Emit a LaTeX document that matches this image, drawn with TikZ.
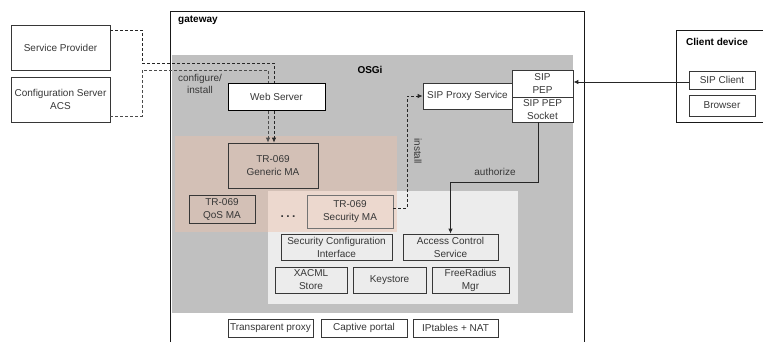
\documentclass[tikz,border=0pt]{standalone}
\usepackage{fontspec}
\setmainfont{Liberation Sans}
\usetikzlibrary{arrows.meta}
\definecolor{osgigray}{RGB}{192,192,192}
\definecolor{zonelight}{RGB}{236,236,236}
\definecolor{zonepink}{RGB}{236,192,170}
\definecolor{edge}{RGB}{55,55,55}
\definecolor{ink}{RGB}{55,55,55}

\begin{document}
\begin{tikzpicture}[x=1bp,y=-1bp,
  font=\fontsize{10bp}{13bp}\selectfont,
  bsize/.style 2 args={minimum width=#1bp, minimum height=#2bp},
  box/.style={draw=edge, line width=0.8bp, align=center, inner sep=0pt, text=ink},
  wbox/.style={box, fill=white},
  tbox/.style={box},
  label/.style={text=ink, inner sep=0pt, align=center},
  title/.style={text=black, inner sep=0pt, font=\fontsize{10bp}{12bp}\selectfont\bfseries},
  dashlink/.style={dash pattern=on 3bp off 2bp, line width=0.8bp, draw=black!85},
  solidlink/.style={line width=0.9bp, draw=black!85},
  tip/.style={-{Latex[length=5bp,width=4.5bp]}},
  frame/.style={line width=0.9bp, draw=black!90}]

\useasboundingbox (0,0) rectangle (763,342);
\fill[white] (0,0) rectangle (763,342);

% gateway frame (open at the bottom)
\draw[frame] (170,342) -- (170,11) -- (584,11) -- (584,342);
\node[title, anchor=west] (gw) at (178,20) {gateway};

% OSGi container and its zones
\fill[osgigray] (172,55) rectangle (573,313);
\node[title] (osgi) at (370,70) {OSGi};
\fill[zonelight] (268,191) rectangle (518,304);
\fill[zonepink, opacity=0.45] (175,136) rectangle (397,232);

% external servers
\node[wbox, bsize={99}{45}] (sp) at (60.5,47.5) {Service Provider};
\node[wbox, bsize={99}{45}] (acs) at (60.5,99.5) {Configuration Server\\ACS};

% management agents
\node[tbox, bsize={90}{45}] (generic) at (273,165.5) {TR-069\\Generic MA};
\node[tbox, bsize={66}{28}] (qos) at (222,209) {TR-069\\QoS MA};
\node[tbox, draw=black!55, bsize={86}{33}] (secma) at (350,211.5) {TR-069\\Security MA};
\node[label, font=\fontsize{12bp}{12bp}\selectfont\bfseries] (dots) at (288,217) {.\hspace{2.5bp}.\hspace{2.5bp}.};

% configure/install paths (behind the web server)
\coordinate (spbend) at (142,63);
\coordinate (acsbend) at (142,70);
\draw[dashlink, tip] (sp.east |- 0,30) -- (spbend |- 0,30) -- (spbend) -- (274,63) -- (generic.north -| 274,0);
\draw[dashlink, draw=black!70, tip] (acs.east |- 0,116) -- (acsbend |- 0,116) -- (acsbend) -- (268,70) -- (generic.north -| 268,0);
\node[label, align=center, font=\fontsize{10bp}{12bp}\selectfont] (cfg) at (200,84) {configure/\\install};

\node[wbox, draw=black, bsize={97}{27}] (web) at (276.5,96.5) {Web Server};

% security services
\node[tbox, bsize={111}{26}] (secconf) at (336.5,247) {Security Configuration\\Interface};
\node[tbox, bsize={95}{26}] (acl) at (450.5,247) {Access Control\\Service};
\node[tbox, bsize={72}{26}] (xacml) at (311,280) {XACML\\Store};
\node[tbox, bsize={73}{26}] (keys) at (389.5,280) {Keystore};
\node[tbox, bsize={77}{26}] (radius) at (470.5,280) {FreeRadius\\Mgr};

% SIP components
\node[wbox, bsize={89}{26}] (proxy) at (467.5,96) {SIP Proxy Service};
\node[wbox, bsize={61}{27}] (pep) at (542.5,83.5) {SIP\\PEP};
\node[wbox, bsize={61}{25}] (sock) at (542.5,109.5) {SIP PEP\\Socket};

% install path to the proxy
\coordinate (instbend) at (407,208);
\draw[dashlink, tip] (secma.east |- instbend) -- (instbend) -- (instbend |- proxy.west) -- (proxy.west);
\node[label, rotate=-90] (inst) at (418,151) {install};

% authorization path
\coordinate (authbend) at (538,182);
\draw[solidlink, tip] (sock.south -| authbend) -- (authbend) -- (authbend -| acl.north) -- (acl.north);
\node[label] (auth) at (495,172) {authorize};

% network layer
\node[wbox, bsize={85}{18}] (tproxy) at (270.5,328) {Transparent proxy};
\node[wbox, bsize={86}{18}] (portal) at (364,328) {Captive portal};
\node[wbox, bsize={85}{18}] (nat) at (455.5,328) {IPtables + NAT};

% client device (open to the right)
\draw[frame] (763,30) -- (676,30) -- (676,122) -- (763,122);
\node[title, anchor=west] (client) at (686,42) {Client device};
\node[wbox, bsize={66}{18}] (sipc) at (722,80) {SIP Client};
\node[wbox, bsize={66}{21}] (browser) at (722,105.5) {Browser};

\draw[solidlink, tip] (sipc.west |- 0,82) -- (pep.east |- 0,82);
\end{tikzpicture}
\end{document}
